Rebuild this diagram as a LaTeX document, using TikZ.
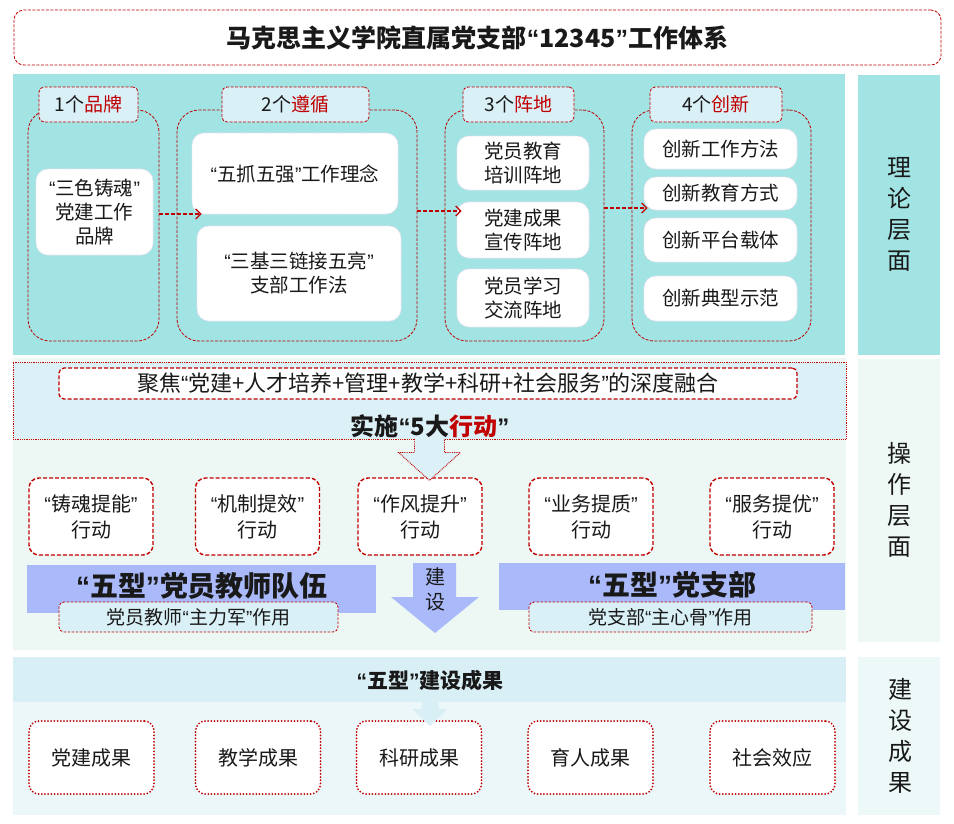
\documentclass[tikz,border=0pt]{standalone}
\usepackage{fontspec}
\setmainfont{Noto Sans CJK SC}
\newfontfamily\qfont{Liberation Sans}
\usetikzlibrary{arrows.meta,calc}
\definecolor{rd}{HTML}{C00000}
\definecolor{cyanp}{HTML}{A2E4E4}
\definecolor{tabc}{HTML}{DAF0F7}
\definecolor{opsband}{HTML}{DBF0F7}
\definecolor{opsbody}{HTML}{EDF8F4}
\definecolor{peri}{HTML}{A9B9F9}
\definecolor{resband}{HTML}{D9EFF6}
\definecolor{resbody}{HTML}{EBF7F9}
\definecolor{opsright}{HTML}{EEF8F4}
\definecolor{resright}{HTML}{EDF8F8}
\definecolor{pinkline}{HTML}{F2DDF0}
\newcommand\myql{{\qfont “}}
\newcommand\myqr{{\qfont ”}}
\newcommand\fz[2]{\fontsize{#1}{#2}\selectfont}
\begin{document}
\begin{tikzpicture}[x=1pt,y=-1pt,
  every node/.style={text=black!90},
  titlebox/.style={draw=rd,fill=white,line width=0.8pt,dash pattern=on 3pt off 1.5pt,rounded corners=10pt,minimum width=927,minimum height=55,inner sep=0,font=\bfseries\fz{25}{29}},
  grpbox/.style={draw=rd,line width=0.8pt,dash pattern=on 3pt off 1.5pt,rounded corners=22pt,inner sep=0},
  tabbox/.style={draw=rd,fill=tabc,line width=0.8pt,dash pattern=on 3pt off 1.5pt,rounded corners=5pt,minimum height=35,inner sep=0,font=\fz{19}{23}},
  wbox/.style={fill=white,draw=pinkline,line width=0.6pt,dash pattern=on 2pt off 1pt,rounded corners=12pt,inner sep=0,align=center,font=\fz{19.5}{24}},
  dasharr/.style={draw=rd,line width=1.3pt,dash pattern=on 4pt off 2pt,-{Straight Barb[length=5pt,width=10pt]}},
  bandbox/.style={fill=opsband,draw=rd,line width=0.9pt,dash pattern=on 0.9pt off 0.9pt,minimum width=833,minimum height=77,inner sep=0},
  focusbox/.style={fill=white,draw=rd,line width=1.3pt,dash pattern=on 4pt off 2pt,rounded corners=5pt,minimum width=738,minimum height=31,inner sep=0,font=\fz{22}{25}},
  abox/.style={fill=white,draw=rd,line width=1.4pt,dash pattern=on 4pt off 2pt,rounded corners=10pt,minimum width=124,minimum height=77,inner sep=0,align=center,font=\fz{20}{26}},
  peribox/.style={fill=peri,inner sep=0,font=\bfseries\fz{28}{32}},
  subbox/.style={fill=tabc,draw=rd,line width=0.8pt,dash pattern=on 2.5pt off 1.5pt,rounded corners=5pt,minimum height=30,inner sep=0,font=\fz{19}{22}},
  rbox/.style={fill=white,draw=rd,line width=2pt,dash pattern=on 0pt off 3.2pt,line cap=round,rounded corners=10pt,minimum width=125,minimum height=73,inner sep=0,font=\fz{20}{24}},
  vlabel/.style={align=center,font=\fz{24}{31}}
]
\fill[white] (0,0) rectangle (954,823);
\useasboundingbox (0,0) rectangle (954,823);

% title
\node[titlebox] (title) at (477.5,37.5) {马克思主义学院直属党支部\myql 12345\myqr 工作体系};

% ===== theory level =====
\fill[cyanp] (13,74) rectangle (845,355);
\fill[cyanp] (858,75) rectangle (940,355);
\node[vlabel] (lab1) at (899,214) {理\\论\\层\\面};

\node[grpbox,minimum width=131,minimum height=231] (g1) at (93.5,225.5) {};
\node[grpbox,minimum width=240,minimum height=231] (g2) at (297,225.5) {};
\node[grpbox,minimum width=159,minimum height=231] (g3) at (524.5,225.5) {};
\node[grpbox,minimum width=179,minimum height=231] (g4) at (721.5,225.5) {};

\node[tabbox,minimum width=99] (t1) at (88.5,104.5) {1个\textcolor{rd}{品牌}};
\node[tabbox,minimum width=147] (t2) at (295.5,104.5) {2个\textcolor{rd}{遵循}};
\node[tabbox,minimum width=111] (t3) at (518.5,104.5) {3个\textcolor{rd}{阵地}};
\node[tabbox,minimum width=132] (t4) at (716,104.5) {4个\textcolor{rd}{创新}};

\node[wbox,minimum width=117,minimum height=86] (b1) at (94.5,212) {\myql 三色铸魂\myqr\\党建工作\\品牌};
\node[wbox,minimum width=206,minimum height=81] (b2a) at (295,173.5) {\myql 五抓五强\myqr 工作理念};
\node[wbox,minimum width=204,minimum height=95] (b2b) at (299,273.5) {\myql 三基三链接五亮\myqr\\支部工作法};
\node[wbox,minimum width=132,minimum height=54] (b3a) at (523,163) {党员教育\\培训阵地};
\node[wbox,minimum width=132,minimum height=56] (b3b) at (523,230) {党建成果\\宣传阵地};
\node[wbox,minimum width=132,minimum height=58] (b3c) at (523,298) {党员学习\\交流阵地};
\node[wbox,minimum width=153,minimum height=40] (b4a) at (720.5,149) {创新工作方法};
\node[wbox,minimum width=153,minimum height=33] (b4b) at (720.5,193.5) {创新教育方式};
\node[wbox,minimum width=153,minimum height=44] (b4c) at (720.5,240) {创新平台载体};
\node[wbox,minimum width=153,minimum height=45] (b4d) at (720.5,298.5) {创新典型示范};

\draw[dasharr] ([yshift=11.5]g1.east) -- ([yshift=11.5,xshift=25]g2.west);
\draw[dasharr] ([yshift=14.5]g2.east) -- ([yshift=14.5,xshift=17]g3.west);
\draw[dasharr] ([yshift=17.5]g3.east) -- ([yshift=17.5,xshift=16]g4.west);

% ===== operation level =====
\fill[opsbody] (13,358) rectangle (846,650);
\fill[opsright] (858,359) rectangle (940,642);
\node[vlabel] (lab2) at (899,500) {操\\作\\层\\面};

\node[bandbox] (band) at (429.5,400.5) {};
\node[focusbox] (focus) at (428,383.5) {聚焦\myql 党建+人才培养+管理+教学+科研+社会服务\myqr 的深度融合};
\node[font=\bfseries\fz{24}{28},inner sep=0] (impl) at (430,426) {实施\myql 5大\textcolor{rd}{行动}\myqr};

\node[abox] (a1) at (91,516.5) {\myql 铸魂提能\myqr\\行动};
\node[abox] (a2) at (257.5,516.5) {\myql 机制提效\myqr\\行动};
\node[abox] (a3) at (420,516.5) {\myql 作风提升\myqr\\行动};
\node[abox] (a4) at (591,516.5) {\myql 业务提质\myqr\\行动};
\node[abox] (a5) at (772,516.5) {\myql 服务提优\myqr\\行动};

% arrow from band to actions
\coordinate (A) at (band.south);
\fill[opsband] ($(A)+(-15,-0.5)$) -- ++(0,13.5) -- ++(-16,0) -- ($(A)+(0,41)$) -- ++(31,-28) -- ++(-16,0) -- ++(0,-13.5) -- cycle;
\draw[rd,line width=0.9pt,dash pattern=on 0.9pt off 0.9pt] ($(A)+(-15,-0.5)$) -- ++(0,13.5) -- ++(-16,0) -- ($(A)+(0,41)$) -- ++(31,-28) -- ++(-16,0) -- ++(0,-13.5);

\node[peribox,minimum width=349,minimum height=48] (team) at (201.5,589) {};
\node[font=\bfseries\fz{28}{32},inner sep=0] (teamtxt) at (202,586) {\myql 五型\myqr 党员教师队伍};
\node[subbox,minimum width=279] (teamrole) at (198.5,617) {党员教师\myql 主力军\myqr 作用};

\node[peribox,minimum width=346,minimum height=47] (branch) at (672,586.5) {};
\node[font=\bfseries\fz{28}{32},inner sep=0] (branchtxt) at (672,585) {\myql 五型\myqr 党支部};
\node[subbox,minimum width=283] (branchrole) at (670.5,617) {党支部\myql 主心骨\myqr 作用};

% central arrow
\fill[peri] (413,563) -- (456,563) -- (456,597) -- (479,597) -- (435,633) -- (391,597) -- (413,597) -- cycle;
\node[align=center,font=\fz{20}{25},inner sep=0] (build) at (435,589.5) {建\\设};

% ===== results level =====
\fill[resband] (13,657) rectangle (846,702);
\fill[resbody] (13,702) rectangle (846,815);
\fill[resright] (858,657) rectangle (940,815);
\node[vlabel] (lab3) at (900,736) {建\\设\\成\\果};
\node[font=\bfseries\fz{21}{24},inner sep=0] (restitle) at (430,680) {\myql 五型\myqr 建设成果};

\node[rbox] (r1) at (91.5,757.5) {党建成果};
\node[rbox] (r2) at (258,757.5) {教学成果};
\node[rbox] (r3) at (419,757.5) {科研成果};
\node[rbox] (r4) at (590.5,757.5) {育人成果};
\node[rbox] (r5) at (772.5,757.5) {社会效应};

\coordinate (B) at (restitle |- 0,702);
\fill[resband] ($(B)+(-8.5,-0.5)$) -- ++(0,7.5) -- ++(-9,0) -- ($(B)+(0,24)$) -- ++(17.5,-17) -- ++(-9,0) -- ++(0,-7.5) -- cycle;
\end{tikzpicture}
\end{document}
